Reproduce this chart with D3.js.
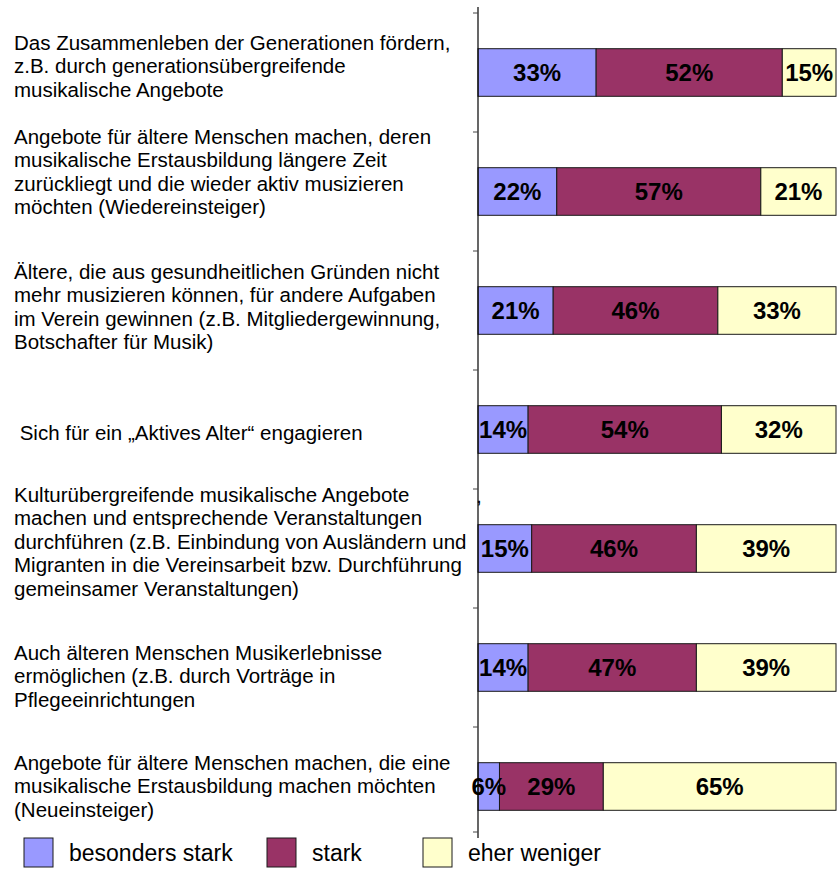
<!DOCTYPE html>
<html>
<head>
<meta charset="utf-8">
<script src="https://cdn.jsdelivr.net/npm/d3@7"></script>
<style>
  body { margin: 0; background: #fff; }
  svg { display: block; font-family: Arial, "Liberation Sans", sans-serif; }
  .cat-label { font-size: 20.5px; fill: #000; white-space: pre; }
  .val-label { font-size: 24px; font-weight: bold; fill: #000; }
  .legend-label { font-size: 23px; fill: #000; }
</style>
</head>
<body>
<div id="chart"></div>
<script>
// stacked 100% bars - rating of the measures for older members

const categories = [
    "Das Zusammenleben der Generationen fördern,\nz.B. durch generationsübergreifende\nmusikalische Angebote",
    "Angebote für ältere Menschen machen, deren\nmusikalische Erstausbildung längere Zeit\nzurückliegt und die wieder aktiv musizieren\nmöchten (Wiedereinsteiger)",
    "Ältere, die aus gesundheitlichen Gründen nicht\nmehr musizieren können, für andere Aufgaben\nim Verein gewinnen (z.B. Mitgliedergewinnung,\nBotschafter für Musik)",
    " Sich für ein „Aktives Alter“ engagieren",
    "Kulturübergreifende musikalische Angebote\nmachen und entsprechende Veranstaltungen\ndurchführen (z.B. Einbindung von Ausländern und\nMigranten in die Vereinsarbeit bzw. Durchführung\ngemeinsamer Veranstaltungen)",
    "Auch älteren Menschen Musikerlebnisse\nermöglichen (z.B. durch Vorträge in\nPflegeeinrichtungen",
    "Angebote für ältere Menschen machen, die eine\nmusikalische Erstausbildung machen möchten\n(Neueinsteiger)"
];
const besondersStark = [33, 22, 21, 14, 15, 14, 6];
const stark = [52, 57, 46, 54, 46, 47, 29];
const eherWeniger = [15, 21, 33, 32, 39, 39, 65];
const seriesNames = ["besonders stark", "stark", "eher weniger"];
const seriesColors = ["#9999FF", "#993366", "#FFFFCC"];

// layout
const width = 838;
const height = 880;
const axisX = 478;
const barRight = 836;
const plotTop = 13;
const plotBottom = 846;
const axisTop = 7;
const axisBottom = 838;
const labelX = 14;
const lineHeight = 23.5;
// first line of each category text, relative to the bar centre (manual text boxes)
const labelShift = [-30, -55, -39, 3, -54, -15, -24];

const table = categories.map((c, i) => ({
    cat: i,
    "besonders stark": besondersStark[i],
    "stark": stark[i],
    "eher weniger": eherWeniger[i]
}));

const stack = d3.stack().keys(seriesNames);
const layers = stack(table);

const x = d3.scaleLinear()
    .domain([0, 100])
    .range([axisX, barRight]);

const y = d3.scaleBand()
    .domain(d3.range(categories.length))
    .range([plotTop, plotBottom])
    .paddingInner(0.6)
    .paddingOuter(0.3);

const color = d3.scaleOrdinal()
    .domain(seriesNames)
    .range(seriesColors);

const svg = d3.select("#chart")
    .append("svg")
    .attr("width", width)
    .attr("height", height);

svg.append("defs").append("clipPath")
    .attr("id", "plot-clip")
    .append("rect")
    .attr("x", 0)
    .attr("y", 0)
    .attr("width", width)
    .attr("height", height);

// bars
const barGroup = svg.append("g").attr("clip-path", "url(#plot-clip)");

barGroup.selectAll("g.layer")
    .data(layers)
    .enter()
    .append("g")
    .attr("class", "layer")
    .attr("fill", d => color(d.key))
    .selectAll("rect")
    .data(d => d)
    .enter()
    .append("rect")
    .attr("x", d => x(d[0]))
    .attr("y", d => y(d.data.cat))
    .attr("width", d => x(d[1]) - x(d[0]))
    .attr("height", y.bandwidth())
    .attr("stroke", "#1a1a1a")
    .attr("stroke-width", 1);

// value labels
barGroup.selectAll("g.vals")
    .data(layers)
    .enter()
    .append("g")
    .attr("class", "vals")
    .selectAll("text")
    .data(d => d.map(p => ({ p: p, key: d.key })))
    .enter()
    .append("text")
    .attr("class", "val-label")
    .attr("x", d => (x(d.p[0]) + x(d.p[1])) / 2)
    .attr("y", d => y(d.p.data.cat) + y.bandwidth() / 2)
    .attr("dy", "0.36em")
    .attr("text-anchor", "middle")
    .text(d => (d.p[1] - d.p[0]) + "%");

// vertical axis with ticks on band boundaries
svg.append("line")
    .attr("x1", axisX)
    .attr("x2", axisX)
    .attr("y1", axisTop)
    .attr("y2", axisBottom)
    .attr("stroke", "#000")
    .attr("stroke-width", 1.2);

const tickPos = d3.range(categories.length + 1)
    .map(i => Math.min(plotTop + i * y.step(), axisBottom - 6));

svg.selectAll(".tick")
    .data(tickPos)
    .enter()
    .append("line")
    .attr("class", "tick")
    .attr("x1", axisX - 5)
    .attr("x2", axisX)
    .attr("y1", d => d)
    .attr("y2", d => d)
    .attr("stroke", "#444")
    .attr("stroke-width", 1);

// stray comma next to the axis in the original
svg.append("text")
    .attr("x", axisX - 1)
    .attr("y", 503)
    .attr("font-size", 14)
    .attr("font-weight", "bold")
    .text(",");

// category texts
svg.selectAll(".cat-label")
    .data(categories)
    .enter()
    .append("text")
    .attr("class", "cat-label")
    .attr("x", labelX)
    .attr("y", (d, i) => y(i) + y.bandwidth() / 2 + labelShift[i])
    .each(function (d) {
        const t = d3.select(this);
        d.split("\n").forEach((line, k) => {
            t.append("tspan")
                .attr("x", labelX)
                .attr("dy", k === 0 ? "0.36em" : lineHeight)
                .text(line);
        });
    });

// legend
const legendX = [24, 267, 423];
const legendY = 838;
const sw = 29;

const legend = svg.selectAll(".legend")
    .data(seriesNames)
    .enter()
    .append("g")
    .attr("class", "legend")
    .attr("transform", (d, i) => `translate(${legendX[i]},${legendY})`);

legend.append("rect")
    .attr("width", sw)
    .attr("height", sw)
    .attr("fill", d => color(d))
    .attr("stroke", "#1a1a1a")
    .attr("stroke-width", 1);

legend.append("text")
    .attr("class", "legend-label")
    .attr("x", sw + 16)
    .attr("y", sw / 2)
    .attr("dy", "0.36em")
    .text(d => d);
</script>
</body>
</html>
